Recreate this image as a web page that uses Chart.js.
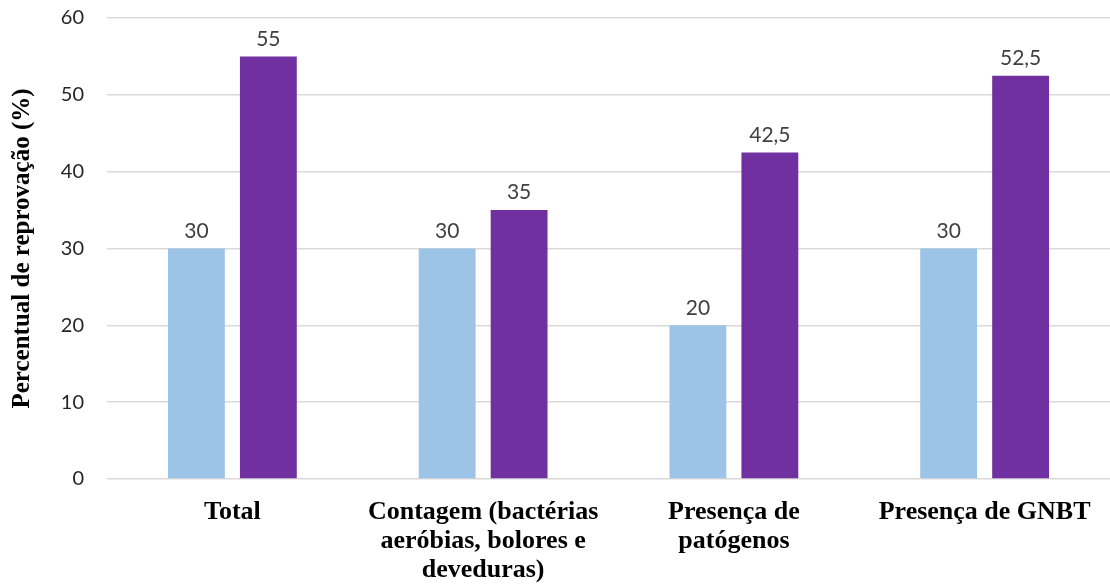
<!DOCTYPE html>
<html>
<head>
<meta charset="utf-8">
<script src="https://cdn.jsdelivr.net/npm/chart.js@4/dist/chart.umd.min.js"></script>
<style>
  html, body { margin: 0; padding: 0; background: #fff; }
  #wrap { width: 1110px; height: 585px; position: relative; }
</style>
</head>
<body>
<div id="wrap"><canvas id="grafico"></canvas></div>
<script>
// categorias e percentuais de reprovação
const categorias = [
    'Total',
    ['Contagem (bactérias', 'aeróbias, bolores e', 'deveduras)'],
    ['Presença de', 'patógenos'],
    'Presença de GNBT'
];
const serieA = [30, 30, 20, 30];
const serieB = [55, 35, 42.5, 52.5];
const ticksY = [0, 10, 20, 30, 40, 50, 60];

// rótulos de valor acima de cada barra (vírgula decimal)
const rotulosValor = {
    id: 'rotulosValor',
    afterDatasetsDraw(chart) {
        const ctx = chart.ctx;
        ctx.save();
        ctx.font = '21px Lato, "Open Sans", sans-serif';
        ctx.fillStyle = '#404040';
        ctx.textAlign = 'center';
        ctx.textBaseline = 'bottom';
        chart.data.datasets.forEach((ds, i) => {
            chart.getDatasetMeta(i).data.forEach((bar, j) => {
                const txt = String(ds.data[j]).replace('.', ',');
                ctx.fillText(txt, bar.x, bar.y - 7);
            });
        });
        ctx.restore();
    }
};

new Chart(document.getElementById('grafico'), {
    type: 'bar',
    data: {
        labels: categorias,
        datasets: [
            { data: serieA, backgroundColor: '#9DC3E6', categoryPercentage: 0.574, barPercentage: 0.79 },
            { data: serieB, backgroundColor: '#7030A0', categoryPercentage: 0.574, barPercentage: 0.79 }
        ]
    },
    options: {
        responsive: true,
        maintainAspectRatio: false,
        animation: false,
        layout: { padding: { top: 18, right: 0, left: 8, bottom: 0 } },
        plugins: { legend: { display: false }, tooltip: { enabled: false } },
        scales: {
            x: {
                grid: { display: false },
                border: { display: false },
                ticks: {
                    color: '#000',
                    padding: 11,
                    maxRotation: 0,
                    autoSkip: false,
                    font: { family: '"Liberation Serif", "Times New Roman", serif', size: 26, weight: 'bold', lineHeight: '29px' }
                },
                afterFit(scale) { scale.height = 106; }
            },
            y: {
                min: 0,
                max: 60,
                afterBuildTicks(scale) { scale.ticks = ticksY.map(v => ({ value: v })); },
                grid: { color: '#d9d9d9', lineWidth: 1.5, drawTicks: false },
                border: { display: false },
                ticks: {
                    color: '#262626',
                    padding: 23,
                    font: { family: 'Lato, "Open Sans", sans-serif', size: 20 }
                },
                title: {
                    display: true,
                    text: 'Percentual de reprovação (%)',
                    color: '#000',
                    padding: { top: 0, bottom: 0 },
                    font: { family: '"Liberation Serif", "Times New Roman", serif', size: 25, weight: 'bold' }
                },
                afterFit(scale) {
                    scale.width = 99;
                    scale.paddingTop = 0;
                    scale.paddingBottom = 0;
                }
            }
        }
    },
    plugins: [rotulosValor]
});
</script>
</body>
</html>
